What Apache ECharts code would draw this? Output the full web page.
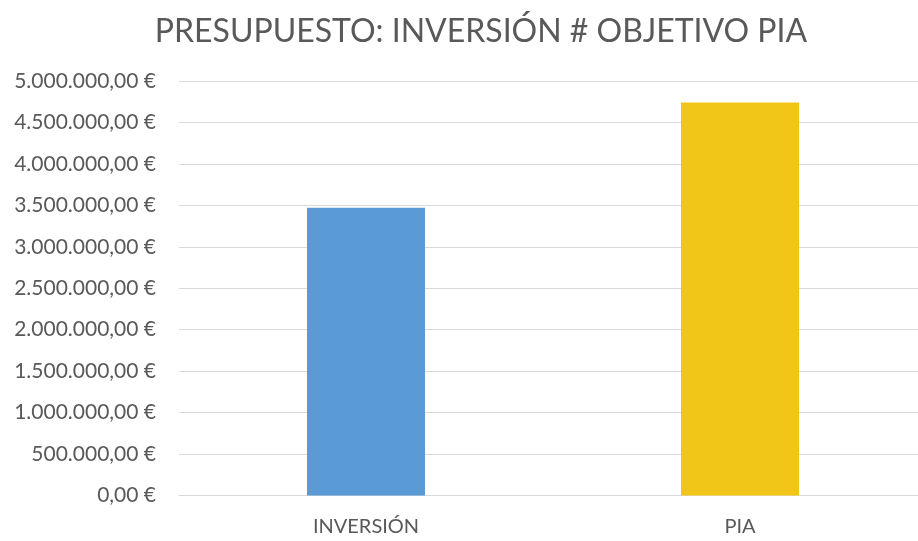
<!DOCTYPE html>
<html>
<head>
<meta charset="utf-8">
<script src="https://cdn.jsdelivr.net/npm/echarts@6/dist/echarts.min.js"></script>
<style>
  html, body { margin: 0; padding: 0; background: #fff; }
  #chart { width: 918px; height: 541px; }
</style>
</head>
<body>
<div id="chart"></div>
<script>
// Budget figures in euros
const titleText = 'PRESUPUESTO: INVERSIÓN # OBJETIVO PIA';
const categories = ['INVERSIÓN', 'PIA'];
const amounts = [3470000, 4740000];
const barColors = ['#5B9BD5', '#F2C618'];

const FONT = 'Lato';
const TEXT = '#595959';

// Spanish currency style: 1.234.567,00 €
function euro(v) {
  const s = Math.round(v).toString().replace(/\B(?=(\d{3})+(?!\d))/g, '.');
  return s + ',00 €';
}

const chart = echarts.init(document.getElementById('chart'), null, { renderer: 'canvas' });
chart.setOption({
  animation: false,
  backgroundColor: '#ffffff',
  title: {
    text: titleText,
    left: 476,
    top: 11,
    textAlign: 'center',
    textStyle: { fontFamily: FONT, fontWeight: 'normal', fontSize: 32, color: TEXT }
  },
  // the plot area runs slightly past the right edge of the canvas
  grid: { left: 179, top: 81, width: 748, height: 414.5, outerBoundsMode: 'none', containLabel: false },
  xAxis: {
    type: 'category',
    data: categories,
    axisLine: { lineStyle: { color: '#D9D9D9', width: 1 } },
    axisTick: { show: false },
    axisLabel: { fontFamily: FONT, fontSize: 20, color: TEXT, margin: 21 }
  },
  yAxis: {
    type: 'value',
    min: 0,
    max: 5000000,
    interval: 500000,
    axisLine: { show: false },
    axisTick: { show: false },
    splitLine: { lineStyle: { color: '#D9D9D9', width: 1 } },
    axisLabel: { fontFamily: FONT, fontSize: 21, color: TEXT, margin: 23, formatter: euro }
  },
  series: [{
    type: 'bar',
    barWidth: 118,
    data: amounts.map((v, i) => ({ value: v, itemStyle: { color: barColors[i] } }))
  }]
});
</script>
</body>
</html>
